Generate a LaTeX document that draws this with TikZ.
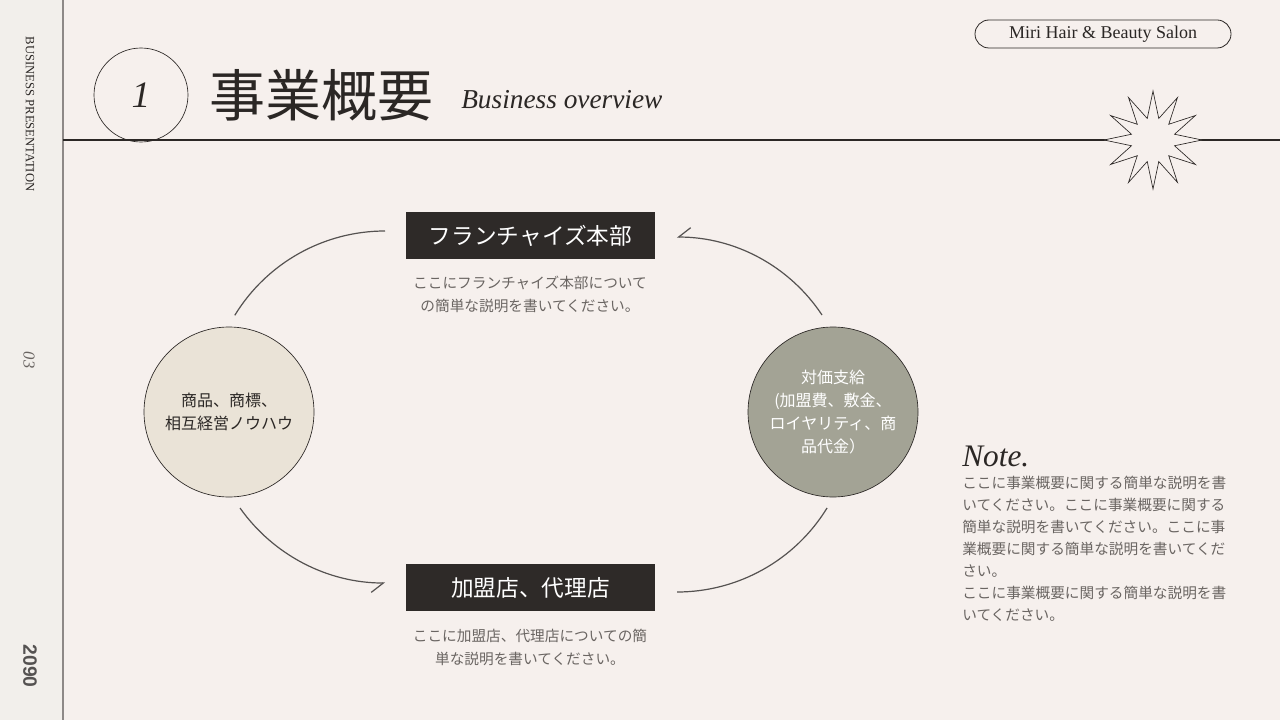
\documentclass[tikz,border=0pt]{standalone}
\usepackage{fontspec}
\setmainfont{Liberation Serif}
\newfontfamily\jpfont{Noto Sans CJK JP}
\newfontfamily\numfont{Liberation Sans}
\usetikzlibrary{arrows.meta,shapes.geometric}

\definecolor{paper}{HTML}{F6F0ED}
\definecolor{strip}{HTML}{F2EFEB}
\definecolor{ink}{HTML}{2B2725}
\definecolor{boxfill}{HTML}{2E2A28}
\definecolor{sand}{HTML}{EAE3D7}
\definecolor{sage}{HTML}{A3A395}
\definecolor{mute}{HTML}{6A6562}
\definecolor{rulegray}{HTML}{8E8987}

\newcommand{\jpsize}[2]{\jpfont\fontsize{#1}{#2}\selectfont}

\begin{document}
\begin{tikzpicture}[
    x=0.75pt, y=-0.75pt,
    bar/.style={rectangle, fill=boxfill, text=white, minimum width=186.75pt, minimum height=35.25pt, font={\jpsize{17}{20}}},
    desc/.style={align=center, text=mute, font={\jpsize{11}{17.25}}},
    disc/.style={circle, draw=ink, line width=0.5pt, minimum size=127.5pt, align=center, font={\jpsize{12}{17.25}}},
    flow/.style={draw=ink!80, line width=0.9pt},
    arrow/.style={-{Straight Barb[harpoon, swap, length=9pt, width=14pt]}}
]

% Page
\fill[paper] (0,0) rectangle (1280,720);
\fill[strip] (0,0) rectangle (63,720);
\useasboundingbox (0,0) rectangle (1280,720);
\draw[rulegray, line width=1.5pt] (63,0) -- (63,720);

% Side strip
\node[rotate=-90, text=ink, font=\fontsize{9.5}{11}\selectfont] (side) at (30,114) {BUSINESS PRESENTATION};
\node[rotate=-90, text=mute, font=\itshape\fontsize{12.5}{14}\selectfont] (page) at (29,360) {03};
\node[rotate=-90, text=ink!80, font=\numfont\bfseries\fontsize{14.5}{16}\selectfont] (year) at (30,666) {2090};

% Header
\draw[ink, line width=1pt] (63,140) -- (1280,140);
\node[circle, draw=ink, line width=0.5pt, minimum size=70.5pt, inner sep=0pt, text=ink, font=\itshape\fontsize{28}{30}\selectfont] (num) at (141,95) {1};
\node[anchor=west, inner sep=0pt, text=ink, font={\jpsize{42}{46}}] (title) at (209,95) {事業概要};
\node[anchor=west, inner sep=0pt, text=ink, font=\itshape\fontsize{20.5}{24}\selectfont] (sub) at (461,100) {Business overview};
\node[draw=ink, rounded corners=10.5pt, line width=0.6pt, minimum width=192pt, minimum height=21pt, text=ink, font=\fontsize{13.5}{16}\selectfont] (salon) at (1103,34) {Miri Hair \& Beauty Salon};
\node[star, star points=12, star point ratio=2.2, minimum size=73.5pt, inner sep=0pt, draw=ink, line width=0.5pt, fill=paper] (burst) at (1153,140) {};

% Head office and franchisees
\node[bar] (hq) at (530.5,235.5) {フランチャイズ本部};
\node[desc] (hqtext) at (530,294.5) {ここにフランチャイズ本部について\\の簡単な説明を書いてください。};
\node[bar] (shop) at (530.5,587.5) {加盟店、代理店};
\node[desc] (shoptext) at (530,647.5) {ここに加盟店、代理店についての簡\\単な説明を書いてください。};

% What flows between them
\node[disc, fill=sand, text=ink] (goods) at (229,412) {商品、商標、\\相互経営ノウハウ};
\node[disc, fill=sage, text=white] (pay) at (833,412) {対価支給\\(加盟費、敷金、\\ロイヤリティ、商\\品代金）};

% Cycle
\coordinate (hqW) at (385,231);
\coordinate (payN) at (822,315);
\coordinate (goodsS) at (240,508);
\coordinate (shopE) at (677,592);
\draw[flow] (hqW) arc[start angle=270, end angle=211.4, radius=176];
\draw[flow, arrow] (payN) arc[start angle=326.5, end angle=270, radius=174];
\draw[flow, arrow] (goodsS) arc[start angle=144.7, end angle=90, radius=177.7];
\draw[flow] (shopE) arc[start angle=90, end angle=31.5, radius=176];

% Note
\node[anchor=west, inner sep=0pt, text=ink, font=\itshape\fontsize{23.5}{26}\selectfont] (note) at (962,456) {Note.};
\node[anchor=north west, inner sep=0pt, align=left, text=mute, font={\jpsize{11}{16.5}}] (notetext) at (962,476) {ここに事業概要に関する簡単な説明を書\\いてください。ここに事業概要に関する\\簡単な説明を書いてください。ここに事\\業概要に関する簡単な説明を書いてくだ\\さい。\\ここに事業概要に関する簡単な説明を書\\いてください。};

\end{tikzpicture}
\end{document}
